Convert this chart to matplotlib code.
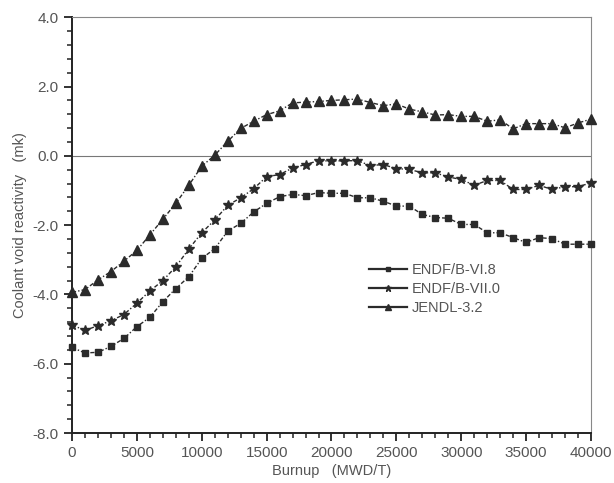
import numpy as np
import matplotlib.pyplot as plt
from matplotlib.lines import Line2D
from matplotlib.ticker import MultipleLocator

plt.rcParams["font.family"] = ["Liberation Sans", "DejaVu Sans"]

burnup = np.arange(0, 40001, 1000)

# coolant void reactivity (mk) per library
endf_b68 = [-5.53, -5.69, -5.67, -5.50, -5.27, -4.93, -4.66, -4.21, -3.83, -3.49,
            -2.96, -2.68, -2.17, -1.95, -1.62, -1.37, -1.18, -1.11, -1.15, -1.06,
            -1.08, -1.08, -1.21, -1.21, -1.31, -1.45, -1.45, -1.69, -1.78, -1.80,
            -1.98, -1.98, -2.22, -2.22, -2.36, -2.50, -2.36, -2.39, -2.55, -2.55,
            -2.55]
endf_b70 = [-4.88, -5.04, -4.90, -4.76, -4.58, -4.25, -3.90, -3.60, -3.20, -2.69,
            -2.22, -1.85, -1.43, -1.21, -0.95, -0.60, -0.54, -0.35, -0.25, -0.14,
            -0.15, -0.14, -0.14, -0.28, -0.25, -0.37, -0.39, -0.49, -0.49, -0.61,
            -0.68, -0.85, -0.71, -0.71, -0.97, -0.97, -0.85, -0.97, -0.89, -0.89,
            -0.78]
jendl32 = [-3.94, -3.86, -3.58, -3.34, -3.04, -2.73, -2.28, -1.83, -1.37, -0.85,
           -0.30, 0.02, 0.42, 0.79, 1.00, 1.19, 1.30, 1.53, 1.55, 1.57,
           1.60, 1.62, 1.64, 1.54, 1.45, 1.50, 1.35, 1.27, 1.18, 1.19,
           1.14, 1.14, 1.00, 1.04, 0.78, 0.93, 0.93, 0.93, 0.81, 0.95,
           1.06]

labels = ["ENDF/B-VI.8", "ENDF/B-VII.0", "JENDL-3.2"]
markers = ["s", "*", "^"]
msizes = [5, 7.5, 6.5]
ink = "#2b2b2b"
txt = "#555555"

fig = plt.figure(figsize=(6.14, 4.83), dpi=100)
ax = fig.add_axes([0.1173, 0.1035, 0.8452, 0.8607])

for y, m, ms in zip([endf_b68, endf_b70, jendl32], markers, msizes):
    ax.plot(burnup, y, color=ink, linestyle=(0, (3, 1.5, 1, 1.5)), lw=1.0,
            marker=m, markersize=ms, markerfacecolor=ink, markeredgecolor=ink,
            clip_on=False, zorder=3)

ax.axhline(0, color="#777777", lw=0.8, zorder=1)

ax.set_xlim(0, 40000)
ax.set_ylim(-8, 4)
ax.xaxis.set_major_locator(MultipleLocator(5000))
ax.xaxis.set_minor_locator(MultipleLocator(1000))
ax.yaxis.set_major_locator(MultipleLocator(2))
ax.yaxis.set_minor_locator(MultipleLocator(0.4))
ax.yaxis.set_major_formatter(plt.FuncFormatter(lambda v, p: f"{v:.1f}"))

for side in ["top", "right"]:
    ax.spines[side].set_color("#888888")
    ax.spines[side].set_linewidth(0.8)
for side in ["left", "bottom"]:
    ax.spines[side].set_color("#222222")
    ax.spines[side].set_linewidth(1.4)

ax.tick_params(which="major", direction="out", length=6, width=1.3,
               color="#222222", labelcolor=txt, labelsize=11)
ax.tick_params(which="minor", direction="out", length=3.5, width=1.1,
               color="#222222")

ax.set_xlabel("Burnup   (MWD/T)", color=txt, fontsize=10.5, labelpad=3)
ax.set_ylabel("Coolant void reactivity   (mk)", color=txt, fontsize=10.5,
              labelpad=4)

handles = [Line2D([], [], color=ink, lw=1.6, marker=m, markersize=ms * 0.65,
                  markerfacecolor=ink, markeredgecolor=ink)
           for m, ms in zip(markers, msizes)]
leg = ax.legend(handles, labels, loc="upper left", bbox_to_anchor=(0.547, 0.44),
                frameon=False, fontsize=10.5, handlelength=2.6,
                handletextpad=0.3, labelspacing=0.35)
for t in leg.get_texts():
    t.set_color(txt)

fig.savefig("out.png", dpi=100)
